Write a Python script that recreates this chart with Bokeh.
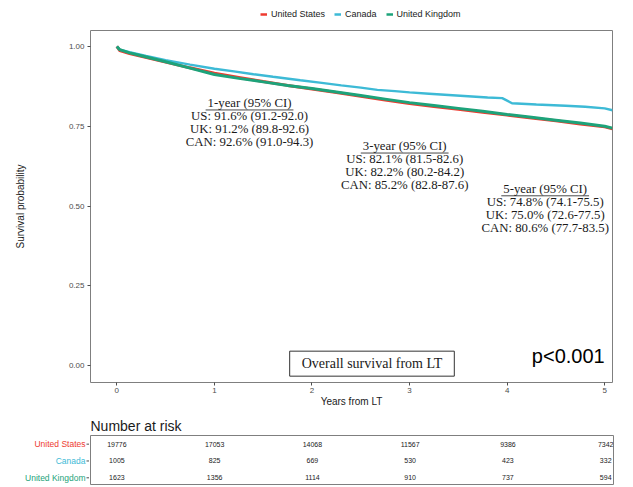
from bokeh.plotting import figure
from bokeh.models import (Range1d, FixedTicker, Label, Legend, LegendItem,
                          NumeralTickFormatter)
from bokeh.layouts import column, row
from bokeh.embed import file_html
from bokeh.resources import INLINE

# ---------------- data ----------------
groups = ["United States", "Canada", "United Kingdom"]
colors = ["#EE3B30", "#3DBAD6", "#1DA37A"]

us_t = [0, 0.03, 0.13, 0.25, 0.5, 0.75, 1.0, 1.25, 1.5, 1.75, 2.0, 2.25, 2.5,
        2.75, 3.0, 3.25, 3.5, 3.75, 4.0, 4.25, 4.5, 4.75, 5.0, 5.08]
us_s = [1.0, 0.987, 0.978, 0.969, 0.951, 0.933, 0.916, 0.903, 0.890, 0.878,
        0.867, 0.856, 0.844, 0.832, 0.821, 0.812, 0.803, 0.794, 0.785, 0.776,
        0.767, 0.757, 0.748, 0.742]

uk_t = [0, 0.03, 0.13, 0.25, 0.5, 0.75, 1.0, 1.25, 1.5, 1.75, 2.0, 2.25, 2.5,
        2.75, 3.0, 3.25, 3.5, 3.75, 4.0, 4.25, 4.5, 4.75, 5.0, 5.08]
uk_s = [1.0, 0.990, 0.980, 0.971, 0.952, 0.932, 0.912, 0.900, 0.889, 0.878,
        0.868, 0.857, 0.846, 0.835, 0.824, 0.815, 0.806, 0.797, 0.787, 0.778,
        0.769, 0.760, 0.750, 0.744]

ca_t = [0, 0.03, 0.13, 0.3, 0.5, 0.75, 1.0, 1.2, 1.4, 1.6, 1.88, 2.1, 2.3,
        2.5, 2.67, 2.85, 3.0, 3.2, 3.4, 3.6, 3.8, 3.95, 4.05, 4.3, 4.6, 4.8,
        5.0, 5.08]
ca_s = [1.0, 0.990, 0.982, 0.970, 0.957, 0.943, 0.930, 0.922, 0.913, 0.905,
        0.894, 0.886, 0.878, 0.871, 0.864, 0.860, 0.856, 0.852, 0.848, 0.844,
        0.840, 0.838, 0.822, 0.818, 0.814, 0.811, 0.806, 0.800]

x_ticks = [0, 1, 2, 3, 4, 5]
y_ticks = [0.0, 0.25, 0.5, 0.75, 1.0]

risk_times = [0, 1, 2, 3, 4, 5]
risk_us = [19776, 17053, 14068, 11567, 9386, 7342]
risk_ca = [1005, 825, 669, 530, 423, 332]
risk_uk = [1623, 1356, 1114, 910, 737, 594]
risk_rows = [3, 2, 1]

ann_years = ["1-year (95% CI)", "3-year (95% CI)", "5-year (95% CI)"]
ann_us = ["US: 91.6% (91.2-92.0)", "US: 82.1% (81.5-82.6)", "US: 74.8% (74.1-75.5)"]
ann_uk = ["UK: 91.2% (89.8-92.6)", "UK: 82.2% (80.2-84.2)", "UK: 75.0% (72.6-77.5)"]
ann_ca = ["CAN: 92.6% (91.0-94.3)", "CAN: 85.2% (82.8-87.6)", "CAN: 80.6% (77.7-83.5)"]
ann_x = [1.36, 2.95, 4.39]
ann_y = [0.822, 0.687, 0.553]

SANS = "Liberation Sans"
SERIF = "Liberation Serif"
AXIS_GRAY = "#7f7f7f"
TEXT_GRAY = "#4d4d4d"

X_RANGE = (-0.27, 5.08)
W = 624

series = [(us_t, us_s), (ca_t, ca_s), (uk_t, uk_s)]

# ---------------- legend strip ----------------
# the strip's ranges are far from the data so only the legend shows
lg = figure(width=W, height=22, output_backend="svg", toolbar_location=None,
            x_range=Range1d(100, 101), y_range=Range1d(100, 101),
            min_border_left=90, min_border_right=12, min_border_top=0,
            min_border_bottom=0)
lg.axis.visible = False
lg.grid.visible = False
lg.outline_line_color = None
leg_rs = [lg.line(t, s, line_color=c, line_width=2.5)
          for (t, s), c in zip(series, colors)]
legend = Legend(items=[LegendItem(label=g, renderers=[r])
                       for g, r in zip(groups, leg_rs)],
                orientation="horizontal", location=(170, 3),
                label_text_font=SANS, label_text_font_size="9px",
                label_text_color="#1a1a1a", glyph_width=7, glyph_height=8,
                label_height=10, label_standoff=4, spacing=9, padding=2,
                margin=0, border_line_color=None, background_fill_alpha=0)
lg.add_layout(legend, "center")

# ---------------- main plot ----------------
p = figure(width=W, height=388, output_backend="svg", toolbar_location=None,
           x_range=Range1d(*X_RANGE), y_range=Range1d(-0.053, 1.05),
           min_border_left=90, min_border_right=12, min_border_top=8,
           min_border_bottom=28)
p.outline_line_color = AXIS_GRAY
p.outline_line_width = 1
p.xgrid.visible = False
p.ygrid.visible = False

p.line(us_t, us_s, line_color=colors[0], line_width=3)
p.line(ca_t, ca_s, line_color=colors[1], line_width=2.4)
p.line(uk_t, uk_s, line_color=colors[2], line_width=3)

for ax in (p.xaxis[0], p.yaxis[0]):
    ax.axis_line_color = None
    ax.major_tick_line_color = TEXT_GRAY
    ax.major_tick_out = 3
    ax.major_tick_in = 0
    ax.minor_tick_line_color = None
    ax.major_label_text_font = SANS
    ax.major_label_text_font_size = "8px"
    ax.major_label_text_color = TEXT_GRAY
    ax.axis_label_text_font = SANS
    ax.axis_label_text_font_style = "normal"
    ax.axis_label_text_color = "#1a1a1a"

p.xaxis.ticker = FixedTicker(ticks=x_ticks)
p.yaxis.ticker = FixedTicker(ticks=y_ticks)
p.yaxis.formatter = NumeralTickFormatter(format="0.00")
p.xaxis.axis_label = "Years from LT"
p.xaxis.axis_label_text_font_size = "10px"
p.xaxis.axis_label_standoff = 0
p.xaxis.major_label_standoff = 2
p.yaxis.axis_label = "Survival probability"
p.yaxis.axis_label_text_font_size = "10px"
p.yaxis.axis_label_standoff = 40
p.yaxis.major_label_standoff = 3

for i in range(3):
    lines = [ann_years[i], ann_us[i], ann_uk[i], ann_ca[i]]
    for j, txt in enumerate(lines):
        p.add_layout(Label(x=ann_x[i], y=ann_y[i], y_offset=-13 * j, text=txt,
                           text_font=SERIF, text_font_size="12.8px",
                           text_color="#1a1a1a", text_align="center",
                           text_baseline="middle"))
# underline of the block headers
p.segment(x0=[x - 0.45 for x in ann_x], x1=[x + 0.45 for x in ann_x],
          y0=[y - 0.021 for y in ann_y], y1=[y - 0.021 for y in ann_y],
          line_color="#1a1a1a", line_width=0.8)

p.add_layout(Label(x=2.615, y=0.006, text="Overall survival from LT",
                   text_font=SERIF, text_font_size="14px", text_color="#1a1a1a",
                   text_align="center", text_baseline="middle",
                   border_line_color="#333333", border_line_width=1,
                   padding=(12, 5)))
p.add_layout(Label(x=5.0, y=0.031, text="p<0.001", text_font=SANS,
                   text_font_size="20px", text_color="black",
                   text_align="right", text_baseline="middle"))

# ---------------- risk table ----------------
RISK_Y = (0.543, 3.514)
lab = figure(width=89, height=75, output_backend="svg", toolbar_location=None,
             x_range=Range1d(0, 89), y_range=Range1d(*RISK_Y),
             min_border_left=0, min_border_right=0, min_border_top=25,
             min_border_bottom=0)
lab.axis.visible = False
lab.grid.visible = False
lab.outline_line_color = None
lab.text(x=[85] * 3, y=risk_rows, text=groups, text_color=colors,
         text_font={"value": SANS}, text_font_size="8.5px", text_align="right",
         text_baseline="middle")
lab.segment(x0=[86] * 3, x1=[89] * 3, y0=risk_rows, y1=risk_rows,
            line_color=TEXT_GRAY, line_width=1)

q = figure(width=W - 89, height=75, output_backend="svg",
           toolbar_location=None, x_range=Range1d(*X_RANGE),
           y_range=Range1d(*RISK_Y), min_border_left=1, min_border_right=11,
           min_border_top=25, min_border_bottom=0, title="Number at risk")
q.title.text_font = SANS
q.title.text_font_size = "14px"
q.title.text_font_style = "normal"
q.title.text_color = "#1a1a1a"
q.title.align = "left"
q.title.standoff = 4
q.outline_line_color = AXIS_GRAY
q.grid.visible = False
q.axis.visible = False

for yv, vals in zip(risk_rows, [risk_us, risk_ca, risk_uk]):
    q.text(x=risk_times, y=[yv] * len(risk_times), text=[str(v) for v in vals],
           text_font_size="7px", text_align="center", text_baseline="middle",
           text_color="#1a1a1a", text_font={"value": SANS})

layout = column(lg, p, row(lab, q, spacing=0), spacing=0)
open("out.html", "w").write(file_html(layout, INLINE))
